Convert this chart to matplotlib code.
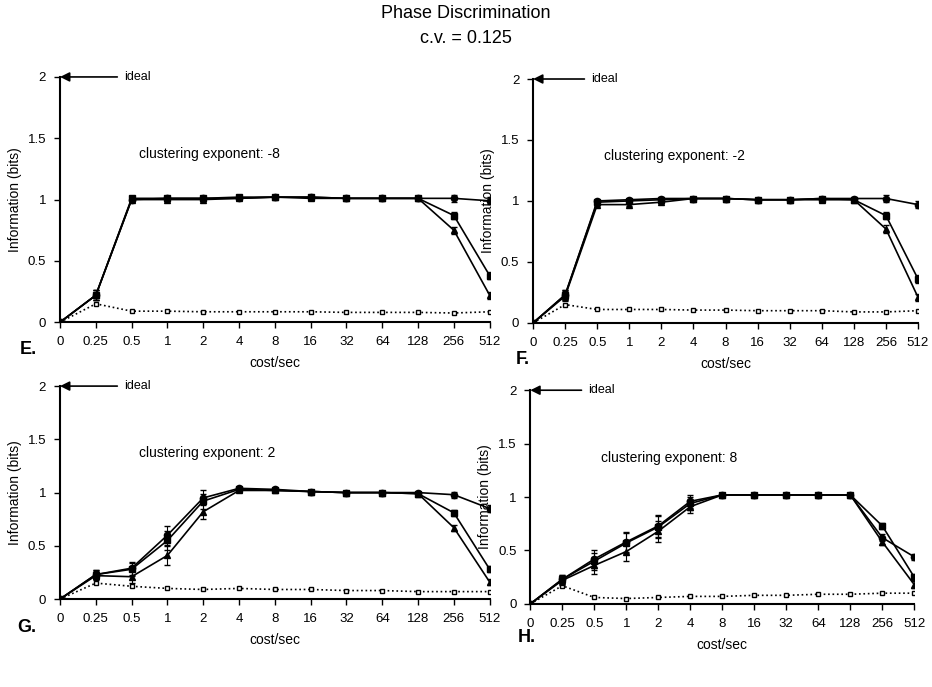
import matplotlib
matplotlib.use('Agg')
import matplotlib.pyplot as plt
import numpy as np

plt.rcParams['font.family'] = ['Liberation Sans', 'DejaVu Sans']

# === Data ===
x_labels = ["0", "0.25", "0.5", "1", "2", "4", "8", "16", "32", "64", "128", "256", "512"]
exponents = ["-8", "-2", "2", "8"]
panel_letters = ["E.", "F.", "G.", "H."]

e_circ = [0, 0.22, 1.00, 1.01, 1.01, 1.01, 1.02, 1.02, 1.01, 1.01, 1.01, 1.01, 0.99]
e_sq = [0, 0.22, 1.01, 1.01, 1.01, 1.02, 1.02, 1.02, 1.01, 1.01, 1.01, 0.87, 0.38]
e_tri = [0, 0.22, 1.00, 1.00, 1.00, 1.01, 1.02, 1.01, 1.01, 1.01, 1.01, 0.75, 0.22]
e_dot = [0, 0.15, 0.09, 0.09, 0.085, 0.085, 0.085, 0.085, 0.08, 0.08, 0.08, 0.075, 0.085]
e_err = [0, 0.04, 0.01, 0.01, 0.01, 0.01, 0.01, 0.01, 0.01, 0.01, 0.01, 0.03, 0.03]

f_circ = [0, 0.23, 1.00, 1.01, 1.02, 1.02, 1.02, 1.01, 1.01, 1.02, 1.02, 1.02, 0.97]
f_sq = [0, 0.23, 0.99, 1.00, 1.01, 1.02, 1.02, 1.01, 1.01, 1.02, 1.01, 0.88, 0.36]
f_tri = [0, 0.22, 0.97, 0.97, 0.99, 1.02, 1.02, 1.01, 1.01, 1.01, 1.01, 0.77, 0.21]
f_dot = [0, 0.15, 0.11, 0.11, 0.11, 0.105, 0.105, 0.10, 0.10, 0.10, 0.09, 0.09, 0.10]
f_err = [0, 0.04, 0.01, 0.01, 0.01, 0.01, 0.01, 0.01, 0.01, 0.01, 0.01, 0.03, 0.03]

g_circ = [0, 0.23, 0.29, 0.60, 0.95, 1.04, 1.03, 1.01, 1.00, 1.00, 1.00, 0.98, 0.85]
g_sq = [0, 0.23, 0.28, 0.55, 0.92, 1.03, 1.02, 1.01, 1.00, 1.00, 0.99, 0.81, 0.28]
g_tri = [0, 0.22, 0.21, 0.41, 0.82, 1.02, 1.02, 1.01, 1.00, 1.00, 0.99, 0.67, 0.16]
g_dot = [0, 0.15, 0.12, 0.10, 0.09, 0.10, 0.09, 0.09, 0.08, 0.08, 0.07, 0.07, 0.07]
g_err = [0, 0.04, 0.06, 0.09, 0.07, 0.01, 0.01, 0.01, 0.01, 0.01, 0.01, 0.03, 0.03]

h_circ = [0, 0.23, 0.42, 0.58, 0.73, 0.96, 1.02, 1.02, 1.02, 1.02, 1.02, 0.62, 0.44]
h_sq = [0, 0.23, 0.40, 0.57, 0.72, 0.94, 1.02, 1.02, 1.02, 1.02, 1.02, 0.73, 0.25]
h_tri = [0, 0.22, 0.36, 0.49, 0.68, 0.91, 1.02, 1.02, 1.02, 1.02, 1.02, 0.58, 0.18]
h_dot = [0, 0.17, 0.06, 0.05, 0.06, 0.07, 0.07, 0.08, 0.08, 0.09, 0.09, 0.10, 0.10]
h_err = [0, 0.04, 0.08, 0.09, 0.10, 0.06, 0.01, 0.01, 0.01, 0.01, 0.01, 0.03, 0.03]

panels = [
    (e_circ, e_sq, e_tri, e_dot, e_err),
    (f_circ, f_sq, f_tri, f_dot, f_err),
    (g_circ, g_sq, g_tri, g_dot, g_err),
    (h_circ, h_sq, h_tri, h_dot, h_err),
]

# axes rectangles in figure fraction
rects = [
    [0.0644, 0.531, 0.461, 0.357],
    [0.572, 0.530, 0.413, 0.355],
    [0.0644, 0.128, 0.461, 0.310],
    [0.569, 0.121, 0.412, 0.311],
]
# panel letter positions (figure fraction)
letter_pos = [(0.021, 0.491), (0.553, 0.476), (0.019, 0.087), (0.556, 0.072)]

fig = plt.figure(figsize=(9.32, 6.87), dpi=100)
fig.text(0.5, 0.981, "Phase Discrimination", ha='center', va='center', fontsize=13)
fig.text(0.5, 0.944, "c.v. = 0.125", ha='center', va='center', fontsize=13)

x = np.arange(len(x_labels))

for (circ, sq, tri, dot, err), rect, expo, letter, lp in zip(panels, rects, exponents,
                                                             panel_letters, letter_pos):
    ax = fig.add_axes(rect)

    # dotted series
    ax.plot(x, dot, color='black', linestyle=':', linewidth=1.2,
            marker='s', markersize=3.5, markerfacecolor='white', markeredgecolor='black',
            markeredgewidth=1.0, zorder=2)

    for vals, mk in [(circ, 'o'), (sq, 's'), (tri, '^')]:
        ax.errorbar(x, vals, yerr=err, color='black', linewidth=1.2,
                    marker=mk, markersize=4.5, capsize=2, elinewidth=0.8, zorder=3)

    ax.set_xlim(0, len(x_labels) - 1)
    ax.set_ylim(0, 2)
    ax.set_xticks(x)
    ax.set_xticklabels(x_labels, fontsize=9.5)
    ax.set_yticks([0, 0.5, 1, 1.5, 2])
    ax.set_yticklabels(["0", "0.5", "1", "1.5", "2"], fontsize=9.5)
    ax.tick_params(direction='out', length=4, width=1, pad=6)
    for s in ['top', 'right']:
        ax.spines[s].set_visible(False)
    for s in ['left', 'bottom']:
        ax.spines[s].set_linewidth(1.5)

    ax.set_ylabel("Information (bits)", fontsize=10)
    ax.set_xlabel("cost/sec", fontsize=10, labelpad=6)

    # ideal arrow
    ax.annotate("", xy=(0.0, 2), xytext=(1.6, 2),
                arrowprops=dict(arrowstyle='-|>', color='black', lw=1.2,
                                mutation_scale=14, shrinkA=0, shrinkB=0),
                annotation_clip=False)
    ax.text(1.8, 2, "ideal", fontsize=9, va='center', ha='left')

    ax.text(2.2, 1.37, "clustering exponent: " + expo, fontsize=10, va='center', ha='left')

    fig.text(lp[0], lp[1], letter, fontsize=13, fontweight='bold', ha='left', va='center')

fig.savefig("out.png", dpi=100)
